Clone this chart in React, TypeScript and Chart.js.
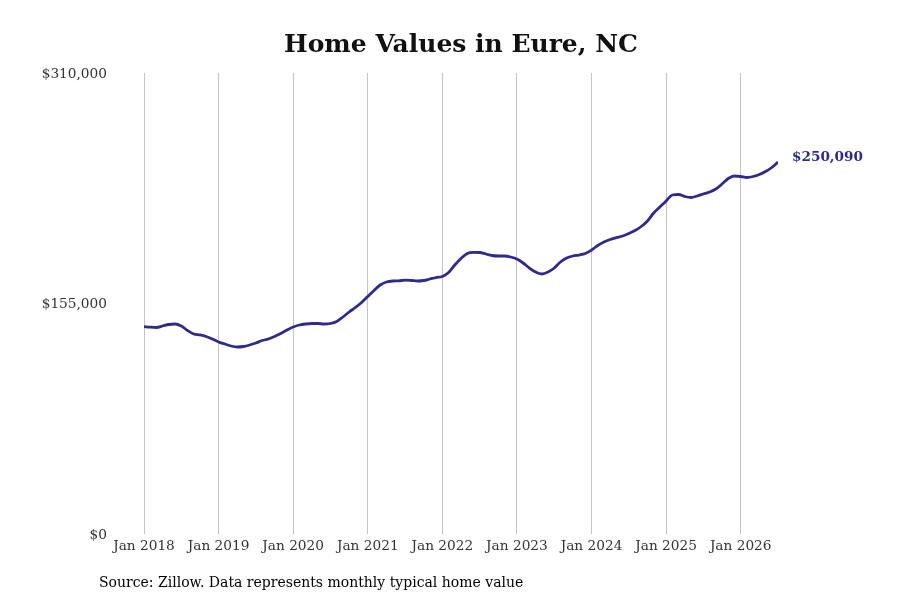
import { useEffect, useRef } from 'react';
import Chart from 'chart.js/auto';

// monthly typical home value, Jan 2018 .. Jul 2026
const values2018 = [139500, 139060, 138860, 139870, 140880, 141210, 139870, 136840, 134490, 133820, 132810, 131130];
const values2019 = [129110, 127770, 126420, 125750, 126080, 127090, 128440, 130120, 131130, 132810, 134830, 137180];
const values2020 = [139200, 140540, 141210, 141550, 141550, 141210, 141550, 142900, 145920, 149280, 152310, 155670];
const values2021 = [159710, 163740, 167440, 169460, 170130, 170260, 170670, 170470, 170130, 170470, 171470, 172480];
const values2022 = [173160, 175850, 180890, 185260, 188620, 189430, 189290, 188290, 187280, 186940, 186940, 186270];
const values2023 = [184920, 182230, 178870, 176180, 174840, 176180, 178870, 182910, 185600, 186940, 187610, 188620];
const values2024 = [190980, 194000, 196350, 198040, 199250, 200390, 202070, 204090, 206780, 210480, 215860, 219890];
const values2025 = [224000, 227960, 228300, 226950, 226280, 227290, 228630, 229980, 231990, 235360, 239060, 240740];
const values2026 = [240400, 239730, 240400, 241750, 243760, 246450, 250090];

const homeValues = [
  ...values2018, ...values2019, ...values2020, ...values2021, ...values2022,
  ...values2023, ...values2024, ...values2025, ...values2026,
];

const xTickLabels = ['Jan 2018', 'Jan 2019', 'Jan 2020', 'Jan 2021', 'Jan 2022', 'Jan 2023', 'Jan 2024', 'Jan 2025', 'Jan 2026'];
const yTickValues = [0, 155000, 310000];
const yTickLabels = ['$0', '$155,000', '$310,000'];

const title = 'Home Values in Eure, NC';
const source = 'Source: Zillow. Data represents monthly typical home value';

const LINE_COLOR = '#2e2b8c';
const FONT = '"DejaVu Serif", serif';

export default function App() {
  const canvasRef = useRef<HTMLCanvasElement>(null);
  const chartRef = useRef<Chart | null>(null);

  useEffect(() => {
    document.body.style.margin = '0';
    if (!canvasRef.current) return;
    if (chartRef.current) chartRef.current.destroy();

    const points = homeValues.map((v, i) => ({ x: i, y: v }));
    const lastValue = homeValues[homeValues.length - 1];

    const textPlugin = {
      id: 'textPlugin',
      afterDraw(chart: any) {
        const { ctx, chartArea } = chart;
        ctx.save();
        // title
        ctx.font = `bold 25px ${FONT}`;
        ctx.fillStyle = '#111';
        ctx.textAlign = 'center';
        ctx.textBaseline = 'middle';
        ctx.fillText(title, (chartArea.left + chartArea.right) / 2, 45);
        // source
        ctx.font = `14px ${FONT}`;
        ctx.fillStyle = '#000';
        ctx.textAlign = 'left';
        ctx.fillText(source, 99, 583);
        // end label
        const meta = chart.getDatasetMeta(0);
        const last = meta.data[meta.data.length - 1];
        ctx.font = `bold 13.6px ${FONT}`;
        ctx.fillStyle = LINE_COLOR;
        ctx.fillText('$' + lastValue.toLocaleString('en-US'), last.x + 14, last.y - 5);
        ctx.restore();
      },
    };

    chartRef.current = new Chart(canvasRef.current, {
      type: 'line',
      data: {
        datasets: [
          {
            data: points,
            borderColor: LINE_COLOR,
            borderWidth: 2.8,
            pointRadius: 0,
            tension: 0.4,
            cubicInterpolationMode: 'monotone',
            fill: false,
          },
        ],
      },
      options: {
        responsive: false,
        animation: false,
        devicePixelRatio: 1,
        layout: { padding: { top: 73, right: 122, left: 0, bottom: 0 } },
        plugins: {
          legend: { display: false },
          tooltip: { enabled: false },
          title: { display: false },
        },
        scales: {
          x: {
            type: 'linear',
            min: 0,
            max: homeValues.length - 1,
            afterBuildTicks: (scale: any) => {
              scale.ticks = xTickLabels.map((_, i) => ({ value: i * 12 }));
            },
            afterFit: (scale: any) => {
              scale.height = 66;
            },
            ticks: {
              callback: (v: any) => xTickLabels[Math.round(Number(v) / 12)] ?? '',
              font: { family: FONT, size: 13.7 },
              color: '#333',
              padding: 4,
              maxRotation: 0,
            },
            grid: { color: '#c4c4c4', drawTicks: false, lineWidth: 1 },
            border: { display: false },
          },
          y: {
            min: 0,
            max: 310000,
            afterBuildTicks: (scale: any) => {
              scale.ticks = yTickValues.map((v) => ({ value: v }));
            },
            afterFit: (scale: any) => {
              scale.width = 144;
            },
            ticks: {
              callback: (v: any) => yTickLabels[yTickValues.indexOf(Number(v))] ?? '',
              font: { family: FONT, size: 13.7 },
              color: '#333',
              padding: 37,
              labelOffset: 1,
            },
            grid: { display: false, drawTicks: false },
            border: { display: false },
          },
        },
      },
      plugins: [textPlugin],
    });

    return () => {
      if (chartRef.current) {
        chartRef.current.destroy();
        chartRef.current = null;
      }
    };
  }, []);

  return (
    <div style={{ width: 900, height: 600, background: '#fff' }}>
      <canvas ref={canvasRef} width={900} height={600}></canvas>
    </div>
  );
}
